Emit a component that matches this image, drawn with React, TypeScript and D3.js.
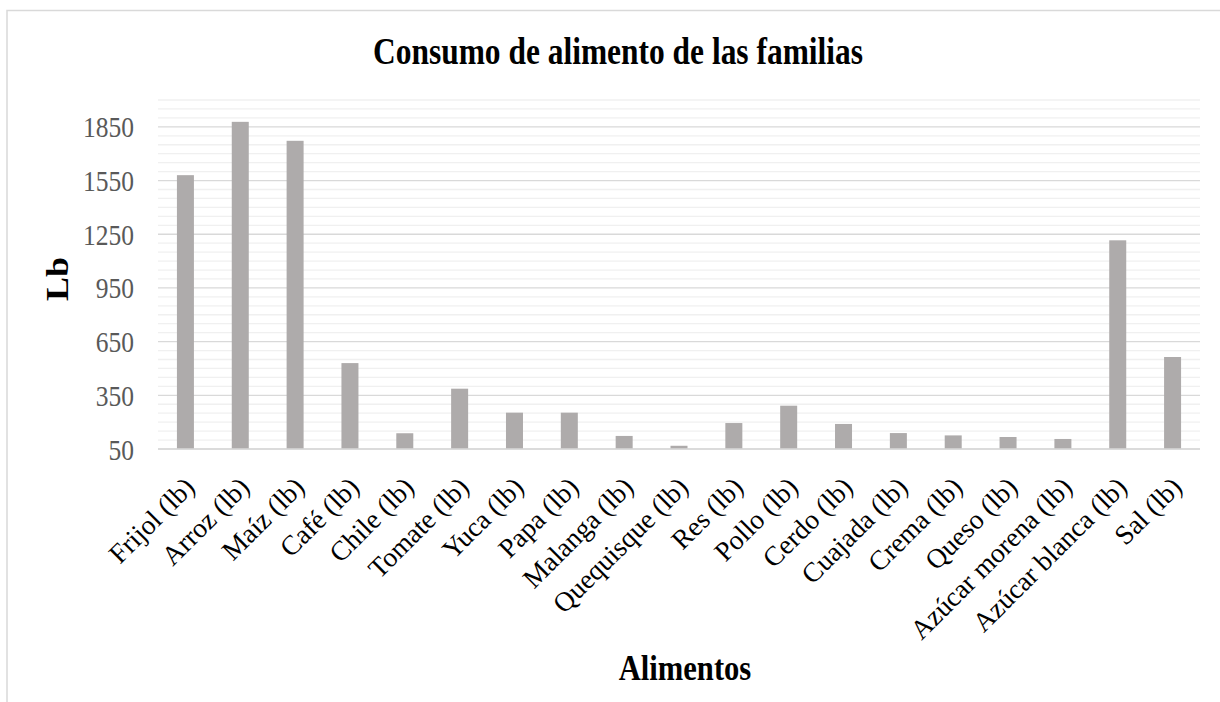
import * as d3 from "d3"
import { useEffect, useRef } from "react"

const categories = [
  "Frijol (lb)",
  "Arroz (lb)",
  "Maíz (lb)",
  "Café (lb)",
  "Chile (lb)",
  "Tomate (lb)",
  "Yuca (lb)",
  "Papa (lb)",
  "Malanga (lb)",
  "Quequisque (lb)",
  "Res (lb)",
  "Pollo (lb)",
  "Cerdo (lb)",
  "Cuajada (lb)",
  "Crema (lb)",
  "Queso (lb)",
  "Azúcar morena (lb)",
  "Azúcar blanca (lb)",
  "Sal (lb)",
]
const values = [
  1580, 1878, 1772, 530, 138, 387, 253, 253, 123, 68, 195, 292, 190, 139, 126,
  117, 106, 1216, 564,
]
const yTicks = [50, 350, 650, 950, 1250, 1550, 1850]
const yMinorStep = 50
const yMin = 50
const yMax = 2000

const WIDTH = 1220
const HEIGHT = 702
const SERIF = "'Liberation Serif', 'Times New Roman', serif"
const SQUEEZE = 0.85

const App = () => {
  const svgRef = useRef<SVGSVGElement>(null)

  useEffect(() => {
    if (!svgRef.current) return
    d3.select(svgRef.current).selectAll("*").remove()

    const MARGIN = { top: 100, right: 20, bottom: 253, left: 158 }
    const svg = d3.select(svgRef.current).attr("width", WIDTH).attr("height", HEIGHT)

    // chart frame
    svg
      .append("rect")
      .attr("x", 7)
      .attr("y", 10.5)
      .attr("width", WIDTH + 20)
      .attr("height", HEIGHT + 20)
      .attr("fill", "#fff")
      .attr("stroke", "#d9d9d9")
      .attr("stroke-width", 1.5)

    const xScale = d3
      .scaleBand<string>()
      .domain(categories)
      .range([MARGIN.left, WIDTH - MARGIN.right])
      .paddingInner(0.69)
      .paddingOuter(0.345)

    const yScale = d3
      .scaleLinear()
      .domain([yMin, yMax])
      .range([HEIGHT - MARGIN.bottom, MARGIN.top])

    // minor gridlines
    const minor = d3.range(yMin, yMax + 1, yMinorStep).filter((v) => !yTicks.includes(v))
    svg
      .append("g")
      .selectAll("line")
      .data(minor)
      .join("line")
      .attr("x1", MARGIN.left)
      .attr("x2", WIDTH - MARGIN.right)
      .attr("y1", (d) => yScale(d))
      .attr("y2", (d) => yScale(d))
      .attr("stroke", "#f0f0f0")
      .attr("stroke-width", 1.3)

    // major gridlines
    svg
      .append("g")
      .selectAll("line")
      .data(yTicks)
      .join("line")
      .attr("x1", MARGIN.left)
      .attr("x2", WIDTH - MARGIN.right)
      .attr("y1", (d) => yScale(d))
      .attr("y2", (d) => yScale(d))
      .attr("stroke", "#d9d9d9")
      .attr("stroke-width", 1.3)

    // bars
    svg
      .append("g")
      .selectAll("rect")
      .data(values)
      .join("rect")
      .attr("x", (_, i) => xScale(categories[i]) as number)
      .attr("width", xScale.bandwidth())
      .attr("y", (d) => yScale(d))
      .attr("height", (d) => yScale(yMin) - yScale(d))
      .attr("fill", "#aeabab")

    // baseline
    svg
      .append("line")
      .attr("x1", MARGIN.left)
      .attr("x2", WIDTH - MARGIN.right)
      .attr("y1", yScale(yMin))
      .attr("y2", yScale(yMin))
      .attr("stroke", "#d9d9d9")
      .attr("stroke-width", 1.5)

    // y tick labels
    svg
      .append("g")
      .selectAll("text")
      .data(yTicks)
      .join("text")
      .attr("transform", (d) => `translate(134, ${yScale(d)}) scale(${SQUEEZE}, 1)`)
      .attr("dy", "0.35em")
      .attr("text-anchor", "end")
      .attr("font-family", SERIF)
      .attr("font-size", "30px")
      .attr("fill", "#595959")
      .text((d) => d)

    // x tick labels
    svg
      .append("g")
      .selectAll("text")
      .data(categories)
      .join("text")
      .attr(
        "transform",
        (d) =>
          `translate(${(xScale(d) as number) + xScale.bandwidth() / 2 + 4}, 482) rotate(-45)`,
      )
      .attr("dy", "0.35em")
      .attr("text-anchor", "end")
      .attr("font-family", SERIF)
      .attr("font-size", "27.5px")
      .attr("fill", "#000")
      .text((d) => d)

    // title
    svg
      .append("text")
      .attr("transform", `translate(618, 64) scale(${SQUEEZE}, 1)`)
      .attr("text-anchor", "middle")
      .attr("font-family", SERIF)
      .attr("font-weight", "bold")
      .attr("font-size", "37px")
      .attr("fill", "#000")
      .text("Consumo de alimento de las familias")

    // x axis title
    svg
      .append("text")
      .attr("transform", `translate(685, 680) scale(${SQUEEZE}, 1)`)
      .attr("text-anchor", "middle")
      .attr("font-family", SERIF)
      .attr("font-weight", "bold")
      .attr("font-size", "36px")
      .attr("fill", "#000")
      .text("Alimentos")

    // y axis title
    svg
      .append("text")
      .attr("transform", `translate(57, 279) scale(${SQUEEZE}, 1) rotate(-90)`)
      .attr("dy", "0.35em")
      .attr("text-anchor", "middle")
      .attr("font-family", SERIF)
      .attr("font-weight", "bold")
      .attr("font-size", "36px")
      .attr("fill", "#000")
      .text("Lb")
  }, [])

  return (
    <svg
      ref={svgRef}
      style={{
        position: "absolute",
        left: 0,
        top: 0,
        width: WIDTH,
        height: HEIGHT,
        display: "block",
        background: "#fff",
      }}
    />
  )
}

export default App
